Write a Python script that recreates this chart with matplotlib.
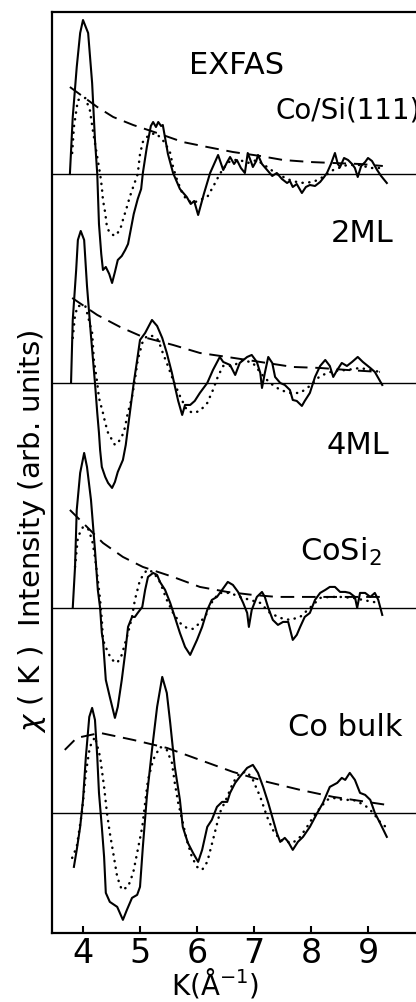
import numpy as np
import matplotlib.pyplot as plt

# EXAFS chi(K) spectra (chi in arb. units x100)
k_cosi111 = [3.77, 3.82, 3.89, 3.95, 4.00, 4.09, 4.16, 4.21, 4.25, 4.28, 4.32, 4.35, 4.40, 4.46, 4.51,
             4.56, 4.61, 4.68, 4.74, 4.79, 4.84, 4.89, 4.96, 5.02, 5.05, 5.12, 5.19, 5.23, 5.28, 5.32,
             5.37, 5.40, 5.49, 5.58, 5.70, 5.82, 5.89, 5.95, 6.02, 6.12, 6.23, 6.30, 6.37, 6.46, 6.53,
             6.58, 6.65, 6.70, 6.77, 6.84, 6.89, 6.95, 6.98, 7.04, 7.07, 7.14, 7.23, 7.32, 7.40, 7.49,
             7.58, 7.63, 7.68, 7.75, 7.84, 7.91, 7.98, 8.07, 8.16, 8.23, 8.28, 8.35, 8.42, 8.47, 8.51,
             8.58, 8.65, 8.72, 8.77, 8.82, 8.88, 8.95, 9.00, 9.07, 9.16, 9.23, 9.33]
chi_cosi111 = [0, 57, 107, 141, 154, 141, 91, 34, 0, -50, -80, -96, -93, -100, -109,
               -98, -86, -82, -76, -70, -55, -40, -25, -15, 1, 27, 48, 52, 47, 52,
               48, 49, 20, 1, -15, -23, -30, -27, -41, -20, 1, 10, 19, 4, 12,
               17, 10, 14, 6, 1, 21, 12, 7, 13, 19, 10, 4, -2, 1, -5,
               -9, -7, -13, -10, -19, -13, -11, -12, -8, -3, 1, 10, 21, 10, 7,
               16, 14, 10, 6, -3, 8, 12, 16, 13, 4, -2, -9]
kfit_cosi111 = [3.81, 3.84, 3.91, 4.04, 4.12, 4.18, 4.25, 4.30, 4.33, 4.35, 4.39, 4.42, 4.47, 4.56, 4.65,
                4.70, 4.77, 4.82, 4.88, 4.96, 5.00, 5.05, 5.12, 5.26, 5.35, 5.44, 5.53, 5.58, 5.65, 5.74,
                5.82, 5.93, 6.05, 6.18, 6.28, 6.40, 6.53, 6.63, 6.75, 6.89, 7.05, 7.23, 7.40, 7.63, 7.81,
                8.04, 8.21, 8.39, 8.63, 8.86, 9.04, 9.21]
fit_cosi111 = [21, 47, 74, 76, 64, 41, 17, 0, -13, -26, -39, -53, -59, -62, -56,
               -46, -33, -23, -13, 0, 20, 32, 37, 41, 37, 31, 21, 7, -6, -19,
               -26, -29, -26, -23, -13, 0, 11, 14, 14, 11, 14, 7, 0, -6, -9,
               -8, -3, 4, 9, 9, 6, 6]
kenv_cosi111 = [3.77, 4.25, 4.53, 4.88, 5.30, 5.75, 6.18, 6.63, 7.11, 7.51, 7.98, 8.39, 8.86, 9.26]
env_cosi111 = [87, 67, 57, 49, 41, 32, 27, 22, 18, 14, 12, 11, 10, 8]

k_2ml = [3.79, 3.82, 3.88, 3.91, 3.96, 4.02, 4.07, 4.14, 4.21, 4.25, 4.28, 4.30, 4.33, 4.39, 4.44,
         4.51, 4.56, 4.61, 4.70, 4.75, 4.79, 4.84, 4.89, 4.95, 5.00, 5.09, 5.21, 5.30, 5.39, 5.47,
         5.56, 5.61, 5.67, 5.74, 5.79, 5.88, 5.96, 6.05, 6.18, 6.28, 6.40, 6.46, 6.58, 6.67, 6.75,
         6.88, 6.96, 7.05, 7.11, 7.14, 7.19, 7.25, 7.32, 7.37, 7.46, 7.54, 7.63, 7.68, 7.75, 7.84,
         7.89, 7.98, 8.07, 8.16, 8.25, 8.33, 8.39, 8.46, 8.54, 8.63, 8.72, 8.82, 8.91, 9.04, 9.12, 9.25]
chi_2ml = [0, 63, 113, 143, 152, 143, 97, 47, 0, -30, -50, -67, -84, -94, -100,
           -105, -99, -89, -77, -62, -44, -22, 0, 23, 43, 50, 63, 57, 45, 30,
           10, -3, -18, -32, -22, -22, -18, -10, 0, 13, 26, 21, 18, 8, 20,
           26, 28, 21, 10, -5, 10, 26, 20, 6, 0, -2, -7, -17, -18, -23,
           -18, -10, 6, 17, 23, 17, 6, 13, 20, 17, 21, 26, 21, 15, 11, -2]
kfit_2ml = [3.82, 3.86, 3.91, 4.04, 4.09, 4.16, 4.19, 4.25, 4.28, 4.35, 4.39, 4.44, 4.51, 4.56, 4.61,
            4.68, 4.74, 4.77, 4.86, 4.91, 4.96, 5.04, 5.12, 5.23, 5.32, 5.40, 5.49, 5.58, 5.70, 5.82,
            5.93, 6.05, 6.18, 6.28, 6.37, 6.46, 6.63, 6.81, 6.98, 7.16, 7.28, 7.46, 7.63, 7.81, 7.98,
            8.16, 8.39, 8.63, 8.86, 9.04, 9.21]
fit_2ml = [45, 68, 77, 77, 66, 50, 23, 0, -15, -30, -40, -50, -57, -62, -60,
           -54, -44, -34, -14, 3, 23, 40, 47, 47, 43, 30, 17, 3, -13, -27,
           -30, -28, -20, -7, 7, 17, 17, 23, 20, 7, 0, -7, -10, -10, -3,
           7, 12, 13, 15, 13, 11]
kenv_2ml = [3.81, 4.25, 4.65, 5.05, 5.58, 6.05, 6.53, 7.11, 7.68, 8.16, 8.63, 9.21]
env_2ml = [85, 68, 56, 46, 38, 30, 26, 21, 16, 15, 13, 11]

k_cosi2 = [3.82, 3.86, 3.89, 3.95, 4.02, 4.07, 4.14, 4.21, 4.26, 4.30, 4.33, 4.35, 4.40, 4.47, 4.56,
           4.61, 4.68, 4.74, 4.79, 4.86, 4.91, 4.96, 5.04, 5.09, 5.14, 5.23, 5.30, 5.35, 5.44, 5.53,
           5.61, 5.70, 5.79, 5.88, 6.00, 6.09, 6.18, 6.26, 6.35, 6.44, 6.54, 6.63, 6.72, 6.81, 6.88,
           6.91, 6.96, 7.05, 7.14, 7.19, 7.25, 7.33, 7.42, 7.51, 7.60, 7.68, 7.75, 7.81, 7.89, 7.98,
           8.07, 8.16, 8.25, 8.33, 8.42, 8.51, 8.60, 8.68, 8.77, 8.81, 8.86, 8.95, 9.04, 9.12, 9.18, 9.25]
chi_cosi2 = [0, 41, 98, 135, 155, 141, 108, 58, 18, 0, -25, -32, -72, -89, -110,
             -99, -72, -45, -19, -9, -9, -5, 1, 18, 31, 35, 33, 26, 18, 5,
             -9, -25, -39, -47, -32, -19, -2, 8, 11, 18, 26, 23, 16, 5, -5,
             -19, -2, 11, 16, 11, 0, -12, -17, -14, -14, -32, -27, -19, -9, -5,
             8, 15, 18, 21, 21, 16, 16, 15, 11, 0, 15, 15, 11, 15, 8, -7]
kfit_cosi2 = [3.86, 3.91, 4.00, 4.09, 4.16, 4.21, 4.26, 4.30, 4.33, 4.35, 4.44, 4.51, 4.60, 4.68, 4.74,
              4.79, 4.86, 4.91, 5.00, 5.12, 5.23, 5.35, 5.47, 5.58, 5.70, 5.82, 5.93, 6.05, 6.18, 6.28,
              6.40, 6.58, 6.75, 6.93, 7.11, 7.28, 7.46, 7.63, 7.81, 7.98, 8.16, 8.33, 8.51, 8.74, 8.91,
              9.09, 9.21]
fit_cosi2 = [41, 71, 81, 79, 68, 51, 28, 8, -12, -32, -45, -52, -55, -47, -35,
             -25, -9, 8, 28, 38, 36, 26, 8, -5, -15, -20, -21, -15, -5, 8,
             15, 15, 11, 8, 5, -5, -10, -12, -9, 0, 10, 11, 11, 10, 8,
             6, 5]
kenv_cosi2 = [3.77, 4.07, 4.35, 4.70, 5.05, 5.58, 6.05, 6.53, 6.98, 7.40, 7.81, 8.39, 9.25]
env_cosi2 = [98, 81, 65, 51, 41, 31, 21, 16, 13, 11, 11, 11, 11]

k_bulk = [3.84, 3.89, 3.95, 4.00, 4.05, 4.11, 4.16, 4.21, 4.25, 4.28, 4.33, 4.37, 4.40, 4.47, 4.60,
          4.70, 4.77, 4.86, 4.95, 5.00, 5.05, 5.12, 5.21, 5.30, 5.39, 5.47, 5.53, 5.61, 5.70, 5.75,
          5.84, 5.93, 6.02, 6.09, 6.18, 6.26, 6.35, 6.44, 6.53, 6.58, 6.67, 6.75, 6.88, 6.98, 7.07,
          7.16, 7.25, 7.32, 7.40, 7.46, 7.54, 7.60, 7.68, 7.77, 7.86, 7.98, 8.11, 8.21, 8.33, 8.46,
          8.54, 8.60, 8.68, 8.77, 8.86, 8.95, 9.04, 9.12, 9.21, 9.33]
chi_bulk = [-54, -37, -14, 13, 56, 96, 105, 93, 56, 20, -14, -44, -80, -89, -94,
            -107, -97, -85, -82, -74, -34, 16, 63, 106, 136, 120, 90, 46, 13, -14,
            -30, -40, -49, -37, -14, -7, 6, 11, 11, 20, 30, 36, 45, 48, 40,
            26, 10, -4, -20, -29, -25, -29, -37, -29, -24, -14, 0, 10, 26, 30,
            35, 33, 40, 33, 20, 18, 13, 0, -10, -24]
kfit_bulk = [3.81, 3.89, 3.98, 4.05, 4.12, 4.21, 4.30, 4.37, 4.42, 4.47, 4.53, 4.60, 4.68, 4.79, 4.88,
             4.95, 5.04, 5.09, 5.14, 5.23, 5.35, 5.47, 5.56, 5.61, 5.67, 5.74, 5.82, 5.91, 6.00, 6.09,
             6.18, 6.28, 6.40, 6.53, 6.63, 6.75, 6.88, 6.98, 7.11, 7.23, 7.33, 7.46, 7.58, 7.68, 7.81,
             7.93, 8.04, 8.16, 8.28, 8.39, 8.56, 8.74, 8.86, 8.98, 9.09, 9.21, 9.33]
fit_bulk = [-45, -34, 0, 40, 66, 76, 56, 26, 0, -20, -40, -64, -77, -74, -60,
            -40, -14, 10, 33, 53, 66, 63, 50, 30, 10, -7, -27, -44, -54, -57,
            -49, -27, 0, 16, 30, 40, 41, 33, 16, -4, -17, -27, -29, -30, -24,
            -14, -4, 5, 13, 15, 13, 13, 10, 6, 0, -9, -15]
kenv_bulk = [3.68, 3.89, 4.30, 4.88, 5.47, 6.05, 6.63, 7.23, 7.81, 8.39, 9.33]
env_bulk = [63, 75, 80, 73, 65, 53, 41, 31, 23, 16, 8]

xticks = [4, 5, 6, 7, 8, 9]


def spectrum(ax, base, k, chi, kf, fit, ke, env):
    ax.axhline(base, color='k', lw=1.0)
    ax.plot(k, base + np.array(chi) / 100.0, color='k', lw=1.5)
    ax.plot(kf, base + np.array(fit) / 100.0, color='k', lw=1.8,
            linestyle=(0, (0.1, 2.6)), dash_capstyle='round')
    ax.plot(ke, base + np.array(env) / 100.0, color='k', lw=1.4,
            linestyle=(0, (7, 4)))


def main():
    fig = plt.figure(figsize=(4.16, 10.02), dpi=100)
    ax = fig.add_axes([0.125, 0.069, 0.875, 0.919])

    spectrum(ax, 7.59, k_cosi111, chi_cosi111, kfit_cosi111, fit_cosi111, kenv_cosi111, env_cosi111)
    spectrum(ax, 5.50, k_2ml, chi_2ml, kfit_2ml, fit_2ml, kenv_2ml, env_2ml)
    spectrum(ax, 3.25, k_cosi2, chi_cosi2, kfit_cosi2, fit_cosi2, kenv_cosi2, env_cosi2)
    spectrum(ax, 1.20, k_bulk, chi_bulk, kfit_bulk, fit_bulk, kenv_bulk, env_bulk)

    ax.set_xlim(3.456, 9.842)
    ax.set_ylim(0, 9.21)
    ax.set_xticks(xticks)
    ax.set_yticks([])
    ax.tick_params(axis='x', direction='in', length=5, width=1.5, labelsize=24, pad=3)
    ax.spines['right'].set_visible(False)
    for s in ['left', 'top', 'bottom']:
        ax.spines[s].set_linewidth(1.6)

    fs = 22
    ax.text(6.70, 8.68, "EXFAS", fontsize=fs, ha='center', va='center')
    ax.text(7.38, 8.23, "Co/Si(111)", fontsize=20, ha='left', va='center')
    ax.text(8.89, 6.99, "2ML", fontsize=fs, ha='center', va='center')
    ax.text(8.82, 4.87, "4ML", fontsize=fs, ha='center', va='center')
    ax.text(7.81, 3.81, "CoSi$_2$", fontsize=fs, ha='left', va='center')
    ax.text(7.60, 2.05, "Co bulk", fontsize=fs, ha='left', va='center')

    fig.text(32 / 416, 1 - 531 / 1002, r"$\chi$ ( K )  Intensity (arb. units)",
             rotation=90, fontsize=21, ha='center', va='center')
    fig.text(215 / 416, 1 - 995 / 1002, r"K($\mathrm{\AA^{-1}}$)",
             fontsize=20, ha='center', va='baseline')

    fig.savefig("out.png", dpi=100)


if __name__ == "__main__":
    main()
